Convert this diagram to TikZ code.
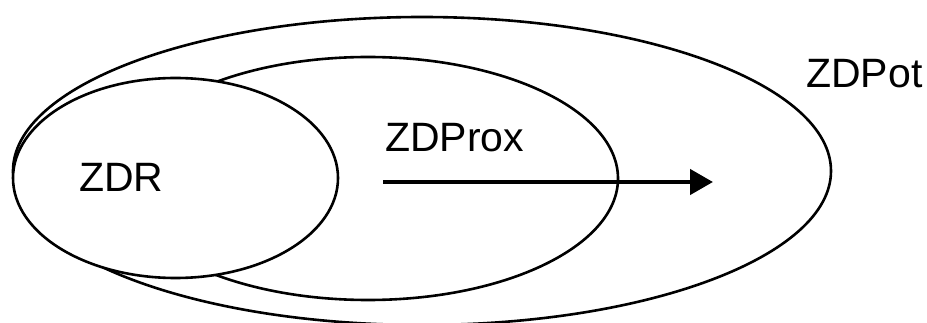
\documentclass[tikz,border=0pt]{standalone}
\usepackage{fontspec}
\setmainfont{Liberation Sans}
\usetikzlibrary{shapes.geometric,arrows.meta}
\begin{document}
\begin{tikzpicture}[x=1pt,y=-1pt,
  zone/.style={ellipse,draw,fill=white,line width=2.6pt,inner sep=0pt},
  lbl/.style={anchor=base west,inner sep=0pt,font=\fontsize{41}{41}\selectfont}]
\useasboundingbox (0,0) rectangle (927,323);
\node[zone,minimum width=818pt,minimum height=308pt] (pot) at (422,171) {};
\node[zone,minimum width=500pt,minimum height=243pt] (prox) at (368,178.5) {};
\node[zone,minimum width=325pt,minimum height=200pt] (zdr) at (175.5,178) {};
\node[lbl] (tpot) at (806,88) {ZDPot};
\node[lbl] (tprox) at (385,152) {ZDProx};
\node[lbl] (tzdr) at (79,192) {ZDR};
\coordinate (a) at (383,182);
\coordinate (b) at (713,182);
\draw[line width=4.5pt,-{Triangle[length=23pt,width=25pt]}] (a) -- (b);
\end{tikzpicture}
\end{document}
